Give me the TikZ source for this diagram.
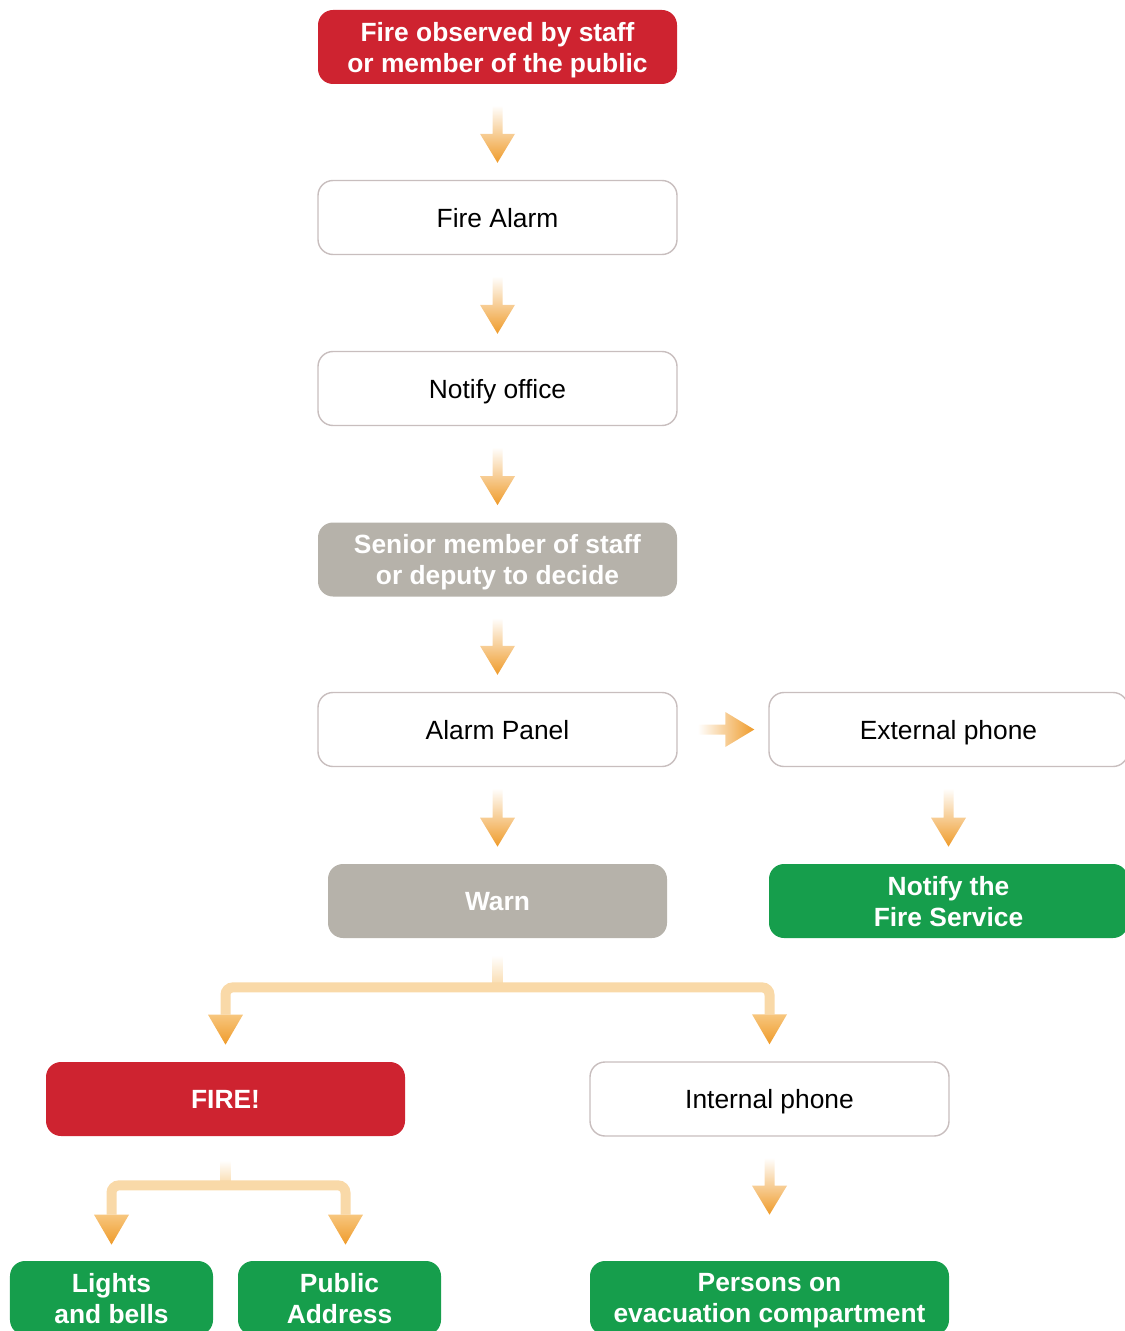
\documentclass[tikz,border=0pt]{standalone}
\usepackage{fontspec}
\setmainfont{Liberation Sans}
\usepackage{tikz}
\usetikzlibrary{calc}

\definecolor{firered}{HTML}{CE2330}
\definecolor{safegreen}{HTML}{169E4C}
\definecolor{warngray}{HTML}{B6B2AA}
\definecolor{edgegray}{HTML}{C8BEBE}
\definecolor{flowor}{HTML}{EF9B2A}
\definecolor{flowlt}{HTML}{F7C67E}
\definecolor{barcol}{HTML}{F9D9A8}

% shaded arrow going down from one box to the next
\newcommand{\flowdown}[3][0.34]{%
  \shade[top color=white,bottom color=flowor]
    let \p1=($(#2.south)+(0,-0.42)$), \p2=($(#3.north)+(0,#1)$) in
    (\x1-0.1cm,\y1) -- (\x1+0.1cm,\y1) -- (\x1+0.1cm,\y2+0.58cm)
    -- (\x1+0.35cm,\y2+0.58cm) -- (\x1,\y2) -- (\x1-0.35cm,\y2+0.58cm)
    -- (\x1-0.1cm,\y2+0.58cm) -- cycle;}
% shaded arrow going right
\newcommand{\flowright}[2]{%
  \shade[left color=white,right color=flowor]
    let \p1=($(#1.east)+(0.4,0)$), \p2=($(#2.west)+(-0.28,0)$) in
    (\x1,\y1+0.1cm) -- (\x2-0.58cm,\y1+0.1cm) -- (\x2-0.58cm,\y1+0.35cm)
    -- (\x2,\y1) -- (\x2-0.58cm,\y1-0.35cm) -- (\x2-0.58cm,\y1-0.1cm)
    -- (\x1,\y1-0.1cm) -- cycle;}
% arrow head only, base centre at #1
\newcommand{\flowhead}[1]{%
  \shade[top color=flowlt,bottom color=flowor]
    (#1) ++(-0.35,0) -- ++(0.7,0) -- ++(-0.35,-0.6) -- cycle;}

\begin{document}
\begin{tikzpicture}
		[box/.style={rectangle,rounded corners=0.3cm,minimum width=7.18cm,minimum height=1.48cm,inner sep=2pt,text depth=0pt,align=center,font=\fontsize{15}{17.6}\selectfont},
		plainbox/.style={box,draw=edgegray,line width=0.8pt,fill=white},
		redbox/.style={box,fill=firered,text=white,font=\fontsize{15}{17.6}\selectfont\bfseries},
		greybox/.style={box,fill=warngray,text=white,font=\fontsize{15}{17.6}\selectfont\bfseries},
		greenbox/.style={box,fill=safegreen,text=white,font=\fontsize{15}{17.6}\selectfont\bfseries},
		bar/.style={draw=barcol,line width=0.2cm,rounded corners=0.15cm}]

		\useasboundingbox (0,0) rectangle (22.5,-26.62);

		% main column
		\node[redbox] (obs) at (9.95,-0.94) {Fire observed by staff\\or member of the public};
		\node[plainbox] (alarm) at (9.95,-4.35) {Fire Alarm};
		\node[plainbox] (office) at (9.95,-7.77) {Notify office};
		\node[greybox] (senior) at (9.95,-11.19) {Senior member of staff\\or deputy to decide};
		\node[plainbox] (panel) at (9.95,-14.59) {Alarm Panel};
		\node[greybox,minimum width=6.78cm] (warn) at (9.95,-18.02) {Warn};

		% right column
		\node[plainbox] (extph) at (18.97,-14.59) {External phone};
		\node[greenbox] (notify) at (18.97,-18.02) {Notify the\\Fire Service};

		% lower part
		\node[redbox] (fire) at (4.51,-21.98) {FIRE!};
		\node[plainbox] (inph) at (15.39,-21.98) {Internal phone};
		\node[greenbox,minimum width=4.06cm] (lights) at (2.23,-25.96) {Lights\\and bells};
		\node[greenbox,minimum width=4.06cm] (public) at (6.79,-25.96) {Public\\Address};
		\node[greenbox] (persons) at (15.39,-25.96) {Persons on\\evacuation compartment};

		\flowdown{obs}{alarm}
		\flowdown{alarm}{office}
		\flowdown{office}{senior}
		\flowdown{senior}{panel}
		\flowdown{panel}{warn}
		\flowright{panel}{extph}
		\flowdown{extph}{notify}
		\flowdown[0.92]{inph}{persons}

		% warn splits
		\coordinate (wsplit) at ($(warn.south)+(0,-0.98)$);
		\coordinate (wl) at ($(fire.north)+(0,0.94)$);
		\coordinate (wr) at ($(inph.north)+(0,0.94)$);
		\shade[top color=white,bottom color=barcol] ($(warn.south)+(-0.1,-0.34)$) rectangle ($(wsplit)+(0.1,0)$);
		\draw[bar] (wl) |- (wsplit) -| (wr);
		\flowhead{wl}
		\flowhead{wr}

		% fire splits
		\coordinate (fsplit) at ($(fire.south)+(0,-0.98)$);
		\coordinate (fl) at ($(lights.north)+(0,0.92)$);
		\coordinate (fr) at ($(public.north)+(0.12,0.92)$);
		\shade[top color=white,bottom color=barcol] ($(fire.south)+(-0.1,-0.48)$) rectangle ($(fsplit)+(0.1,0)$);
		\draw[bar] (fl) |- (fsplit) -| (fr);
		\flowhead{fl}
		\flowhead{fr}
\end{tikzpicture}
\end{document}
